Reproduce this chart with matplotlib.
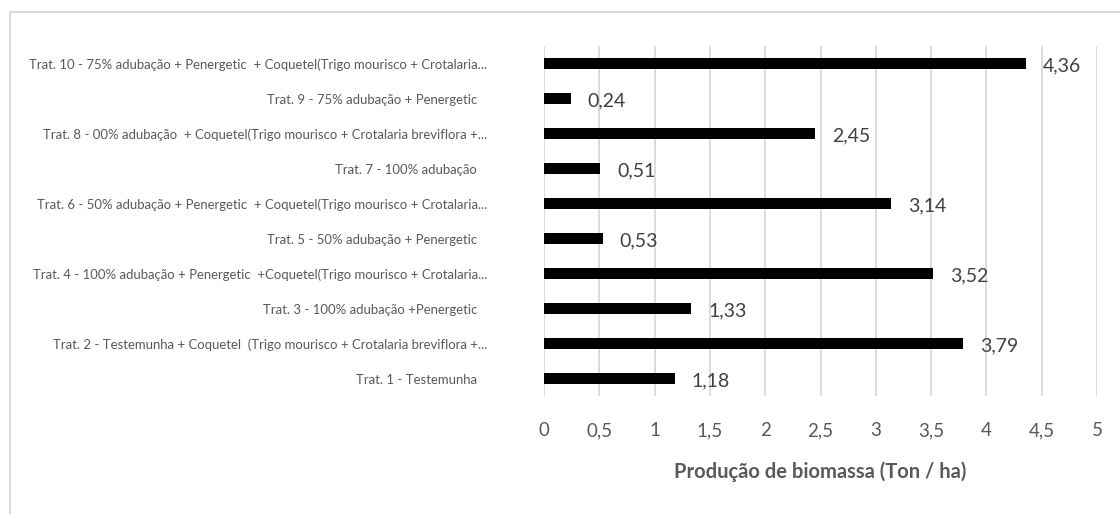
import matplotlib
matplotlib.use("Agg")
import matplotlib.pyplot as plt
from matplotlib.lines import Line2D

plt.rcParams['font.family'] = ['Lato', 'DejaVu Sans']

categories = [
    "Trat. 1 - Testemunha",
    "Trat. 2 - Testemunha + Coquetel  (Trigo mourisco + Crotalaria breviflora +...",
    "Trat. 3 - 100% adubação +Penergetic",
    "Trat. 4 - 100% adubação + Penergetic  +Coquetel(Trigo mourisco + Crotalaria...",
    "Trat. 5 - 50% adubação + Penergetic",
    "Trat. 6 - 50% adubação + Penergetic  + Coquetel(Trigo mourisco + Crotalaria...",
    "Trat. 7 - 100% adubação",
    "Trat. 8 - 00% adubação  + Coquetel(Trigo mourisco + Crotalaria breviflora +...",
    "Trat. 9 - 75% adubação + Penergetic",
    "Trat. 10 - 75% adubação + Penergetic  + Coquetel(Trigo mourisco + Crotalaria...",
]
values = [1.18, 3.79, 1.33, 3.52, 0.53, 3.14, 0.51, 2.45, 0.24, 4.36]
x_ticks = [0, 0.5, 1, 1.5, 2, 2.5, 3, 3.5, 4, 4.5, 5]
x_tick_labels = ["0", "0,5", "1", "1,5", "2", "2,5", "3", "3,5", "4", "4,5", "5"]
x_label = "Produção de biomassa (Ton / ha)"

W, H = 1120, 514
fig = plt.figure(figsize=(W / 100, H / 100), dpi=100)
ax = fig.add_axes([544 / W, 1 - 396 / H, (1097 - 544) / W, (396 - 46) / H])

# chart frame (open to the right and bottom)
fig.add_artist(Line2D([10 / W, 10 / W], [0, 1 - 12 / H], transform=fig.transFigure,
                      color="#d9d9d9", lw=1.5))
fig.add_artist(Line2D([10 / W, 1], [1 - 12 / H, 1 - 12 / H], transform=fig.transFigure,
                      color="#d9d9d9", lw=1.5))

ypos = list(range(len(categories)))
bars = ax.barh(ypos, values, height=0.34, color="black", zorder=3)

ax.set_xlim(0, 5)
ax.set_ylim(-0.5, len(categories) - 0.5)
ax.set_xticks(x_ticks)
ax.set_xticklabels(x_tick_labels)
ax.set_yticks(ypos)
ax.set_yticklabels([c if c.endswith("...") else c + "   " for c in categories])

for s in ax.spines.values():
    s.set_visible(False)
ax.grid(axis="x", color="#d9d9d9", lw=1.3, zorder=0)
ax.tick_params(axis="both", length=0)
ax.tick_params(axis="x", labelsize=13.5, labelcolor="#595959", pad=19)
ax.tick_params(axis="y", labelsize=9.45, labelcolor="#595959", pad=41)

for v, y in zip(values, ypos):
    ax.annotate(f"{v:.2f}".replace(".", ","), xy=(v, y), xytext=(17, -2),
                textcoords="offset pixels", va="center", ha="left",
                fontsize=14, color="#404040")

ax.set_xlabel(x_label, fontsize=14.5, fontweight="bold", color="#595959", labelpad=16)

fig.savefig("out.png", dpi=100)
